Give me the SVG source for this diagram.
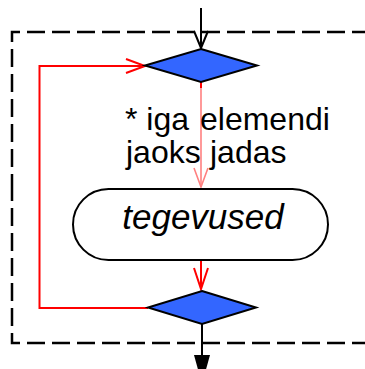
<svg xmlns="http://www.w3.org/2000/svg" width="365" height="369" viewBox="0 0 365 369">
<style>
.dec{fill:#3366ff;stroke:#000;stroke-width:2;stroke-linejoin:miter}
.red{fill:none;stroke:#ff0000;stroke-width:2}
.pink{fill:none;stroke:#ff8080;stroke-width:1.6}
.blk{fill:none;stroke:#000;stroke-width:2}
.frame{fill:none;stroke:#000;stroke-width:2.5;stroke-dasharray:18 7}
.lbl{font-family:"Liberation Sans",Arial,sans-serif;font-size:32px;fill:#000}
</style>
<rect width="365" height="369" fill="#fff"/>
<g id="frame">
<path class="frame" d="M370,32 H12 V188"/>
<path class="frame" d="M370,343 H12 V188"/>
</g>
<g id="connectors">
<path class="blk" d="M201,8 V48"/>
<path class="blk" d="M194,31 L201,48 L208,31"/>
<path class="pink" d="M201,82 V187"/>
<path class="red" d="M201,82 V88"/>
<path class="pink" d="M194,168 L201,187 L208,168"/>
<path class="red" d="M201,260 V289"/>
<path class="red" d="M194,268 L201,289 L208,268"/>
<path class="red" d="M148,308 H39.5 V66 H145"/>
<path class="red" d="M126,59 L145,66 L126,73"/>
<path class="blk" d="M202,324 V360"/>
<polygon points="194,355 210,355 202,384" fill="#000"/>
</g>
<g id="top-decision">
<polygon class="dec" points="201,49 257,65.5 201,82 145,65.5"/>
</g>
<g id="label">
<text class="lbl" x="125" y="130">* iga</text>
<text class="lbl" x="200" y="130">elemendi</text>
<text class="lbl" x="126" y="163">jaoks</text>
<text class="lbl" x="210" y="163">jadas</text>
</g>
<g id="tegevused">
<rect x="73" y="189" width="255" height="71" rx="35.5" ry="35.5" fill="#fff" stroke="#000" stroke-width="2"/>
<text x="203" y="229" text-anchor="middle" font-family="'Liberation Sans',Arial,sans-serif" font-style="italic" font-size="35" fill="#000">tegevused</text>
</g>
<g id="bottom-decision">
<polygon class="dec" points="202,291 256,307.5 202,324 148,307.5"/>
</g>
</svg>
